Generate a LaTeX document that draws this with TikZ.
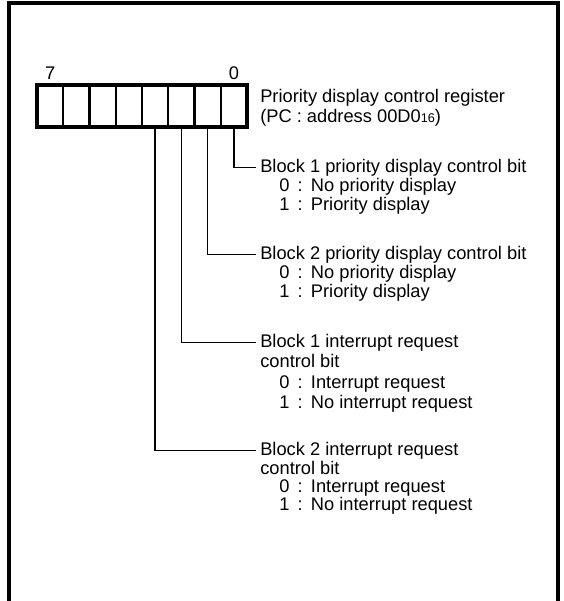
\documentclass[tikz,border=0pt]{standalone}
\usepackage{fontspec}
\setmainfont{Liberation Sans}
\usetikzlibrary{positioning}

\newcommand{\bitval}[2]{#1\hspace{0.45em}:\hspace{0.45em}#2}

\tikzset{
  cellbox/.style={draw,line width=1.6pt,minimum width=0.65625cm,minimum height=1.05cm,inner sep=0pt,outer sep=0pt},
  note/.style={anchor=base west,inner xsep=0.1cm,inner ysep=0pt},
  lead/.style={line width=1pt}
}

\begin{document}
\begin{tikzpicture}[x=0.025cm,y=-0.025cm,font=\fontsize{13}{15.6}\selectfont]
\useasboundingbox (0,0) rectangle (564,601);
% frame, open at the bottom
\draw[line width=2.6pt] (9,605) -- (9,3) -- (558,3) -- (558,605);
% register: bit 0 on the right
\foreach \i in {0,...,7} \node[cellbox] (c\i) at ({233.9-26.25*\i},106) {};
\draw[line width=2.2pt] (c7.north west) rectangle (c0.south east);
\node[anchor=base] (n7) at ([yshift=0.125cm]c7.north) {7};
\node[anchor=base] (n0) at ([yshift=0.125cm]c0.north) {0};
\node[note] (reg) at (256,102) {Priority display control register};
\node[note] (regadr) at (256,122) {(PC : address 00D0\raisebox{-0.3pt}{\fontsize{9}{9}\selectfont 16})};
% bit 0
\node[note] (b1p) at (256,172) {Block 1 priority display control bit};
\node[note] (b1p0) at (275,191) {\bitval{0}{No priority display}};
\node[note] (b1p1) at (275,210) {\bitval{1}{Priority display}};
% bit 1
\node[note] (b2p) at (256,259) {Block 2 priority display control bit};
\node[note] (b2p0) at (275,278) {\bitval{0}{No priority display}};
\node[note] (b2p1) at (275,297) {\bitval{1}{Priority display}};
% bit 2
\node[note] (b1i) at (256,347) {Block 1 interrupt request};
\node[note] (b1ic) at (256,367) {control bit};
\node[note] (b1i0) at (275,388) {\bitval{0}{Interrupt request}};
\node[note] (b1i1) at (275,408) {\bitval{1}{No interrupt request}};
% bit 3
\node[note] (b2i) at (256,455) {Block 2 interrupt request};
\node[note] (b2ic) at (256,474) {control bit};
\node[note] (b2i0) at (275,492) {\bitval{0}{Interrupt request}};
\node[note] (b2i1) at (275,510) {\bitval{1}{No interrupt request}};
% leaders
\draw[lead] (c0.south) |- (b1p.west);
\draw[lead] (c1.south) |- (b2p.west);
\draw[lead] (c2.south) |- (b1i.west);
\draw[lead] (c3.south) |- (b2i.west);
\end{tikzpicture}
\end{document}
